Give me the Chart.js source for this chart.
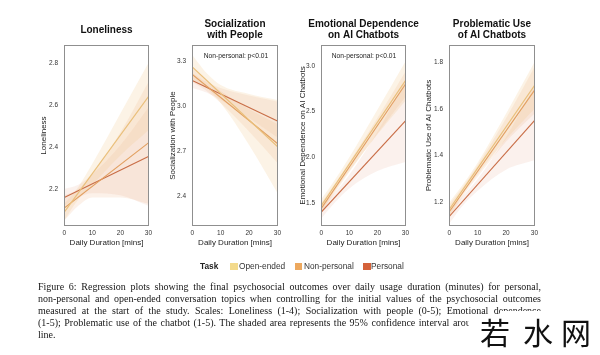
<!DOCTYPE html>
<html>
<head>
<meta charset="utf-8">
<script src="https://cdn.jsdelivr.net/npm/chart.js@4.4.1/dist/chart.umd.min.js"></script>
<style>
html,body{margin:0;padding:0;background:#fff;width:600px;height:355px;overflow:hidden;position:relative;font-family:"Liberation Sans",Arial,Helvetica,sans-serif;}
canvas.panel{position:absolute;top:0;}
.note{position:absolute;top:51px;font-size:6.7px;line-height:9px;color:#222;white-space:nowrap;transform:translateX(-50%);}
.lg{position:absolute;font-size:8.3px;line-height:10px;top:261px;color:#333;white-space:nowrap;}
.sw{position:absolute;top:262.5px;width:7.5px;height:7.5px;}
#caption{position:absolute;left:38px;top:281px;width:503px;font-family:"Liberation Serif","Times New Roman",serif;font-size:10px;line-height:12px;color:#161616;}
#caption .j{text-align:justify;text-align-last:justify;}
.wm{position:absolute;background:#fff;}
.wc{position:absolute;top:316px;font-family:"Noto Sans CJK SC",sans-serif;font-size:30px;line-height:30px;color:#111;}
</style>
</head>
<body>
<canvas class="panel" id="c1"></canvas>
<canvas class="panel" id="c2"></canvas>
<canvas class="panel" id="c3"></canvas>
<canvas class="panel" id="c4"></canvas>
<div class="note" style="left:236px;">Non-personal: p&lt;0.01</div>
<div class="note" style="left:364px;">Non-personal: p&lt;0.01</div>

<div class="lg" style="left:200px;font-weight:bold;color:#222;">Task</div>
<div class="sw" style="left:230px;background:#f3da8c;"></div>
<div class="lg" style="left:239px;">Open-ended</div>
<div class="sw" style="left:294.5px;background:#eda85e;"></div>
<div class="lg" style="left:304px;">Non-personal</div>
<div class="sw" style="left:363px;background:#d4623a;"></div>
<div class="lg" style="left:371px;">Personal</div>

<div id="caption">
<div class="j">Figure 6: Regression plots showing the final psychosocial outcomes over daily usage duration (minutes) for personal,</div>
<div class="j">non-personal and open-ended conversation topics when controlling for the initial values of the psychosocial outcomes</div>
<div class="j">measured at the start of the study. Scales: Loneliness (1-4); Socialization with people (0-5); Emotional dependence</div>
<div class="j">(1-5); Problematic use of the chatbot (1-5). The shaded area represents the 95% confidence interval around the regression</div>
<div>line.</div>
</div>
<div class="wm" style="left:500px;top:311px;width:100px;height:44px;"></div>
<div class="wm" style="left:469px;top:316px;width:131px;height:39px;"></div>
<div class="wc" style="left:480px;">若</div>
<div class="wc" style="left:523px;">水</div>
<div class="wc" style="left:561px;">网</div>

<script>
// ---------- data ----------
const categories = ['Open-ended', 'Non-personal', 'Personal'];
const xTicks = [0, 10, 20, 30];
const lineX = [0, 30];
const bandX = [0, 5, 10, 20, 30];

const lonelinessTicks = [2.2, 2.4, 2.6, 2.8];
const lonelinessLines = [[2.09, 2.64], [2.11, 2.42], [2.16, 2.355]];
const lonelinessLower = [[2.05, 2.15, 2.22, 2.36, 2.48], [2.05, 2.12, 2.16, 2.16, 2.13], [2.12, 2.16, 2.18, 2.17, 2.12]];
const lonelinessUpper = [[2.13, 2.21, 2.32, 2.56, 2.80], [2.17, 2.20, 2.27, 2.47, 2.71], [2.20, 2.22, 2.27, 2.41, 2.59]];

const socialTicks = [2.4, 2.7, 3.0, 3.3];
const socialLines = [[3.26, 2.73], [3.21, 2.75], [3.17, 2.90]];
const socialLower = [[3.18, 3.12, 3.02, 2.74, 2.42], [3.16, 3.10, 3.02, 2.83, 2.62], [3.12, 3.09, 3.04, 2.92, 2.79]];
const socialUpper = [[3.34, 3.22, 3.14, 3.08, 3.04], [3.26, 3.17, 3.10, 2.98, 2.88], [3.22, 3.16, 3.12, 3.07, 3.03]];

const emotionalTicks = [1.5, 2.0, 2.5, 3.0];
const emotionalLines = [[1.47, 2.84], [1.44, 2.80], [1.40, 2.40]];
const emotionalLower = [[1.40, 1.64, 1.85, 2.25, 2.62], [1.38, 1.62, 1.84, 2.26, 2.66], [1.33, 1.51, 1.66, 1.85, 1.95]];
const emotionalUpper = [[1.54, 1.76, 2.00, 2.52, 3.05], [1.50, 1.72, 1.95, 2.43, 2.94], [1.47, 1.62, 1.81, 2.28, 2.85]];

const problematicTicks = [1.2, 1.4, 1.6, 1.8];
const problematicLines = [[1.17, 1.70], [1.16, 1.68], [1.14, 1.55]];
const problematicLower = [[1.14, 1.24, 1.32, 1.47, 1.60], [1.13, 1.23, 1.31, 1.46, 1.58], [1.11, 1.19, 1.25, 1.34, 1.38]];
const problematicUpper = [[1.20, 1.28, 1.37, 1.58, 1.80], [1.19, 1.27, 1.36, 1.56, 1.78], [1.17, 1.23, 1.30, 1.48, 1.70]];

// ---------- styles ----------
const family = '"Liberation Sans", Arial, Helvetica, sans-serif';
const lineColors = ['#eac07c', '#e2a062', '#c96e47'];
const bandColors = ['rgba(240,192,122,0.19)', 'rgba(232,156,98,0.14)', 'rgba(214,122,78,0.10)'];

const panels = [
  {id: 'c1', left: 64, w: 85, title: 'Loneliness', yTitle: 'Loneliness', min: 2.024, max: 2.886,
   ticks: lonelinessTicks, lines: lonelinessLines, lower: lonelinessLower, upper: lonelinessUpper, tOff: 20.7},
  {id: 'c2', left: 192, w: 86, title: ['Socialization', 'with People'], yTitle: 'Socialization with People', min: 2.2, max: 3.407,
   ticks: socialTicks, lines: socialLines, lower: socialLower, upper: socialUpper, tOff: 19.3},
  {id: 'c3', left: 321, w: 85, title: ['Emotional Dependence', 'on AI Chatbots'], yTitle: 'Emotional Dependence on AI Chatbots', min: 1.248, max: 3.23,
   ticks: emotionalTicks, lines: emotionalLines, lower: emotionalLower, upper: emotionalUpper, tOff: 18.3},
  {id: 'c4', left: 449, w: 86, title: ['Problematic Use', 'of AI Chatbots'], yTitle: 'Problematic Use of AI Chatbots', min: 1.099, max: 1.874,
   ticks: problematicTicks, lines: problematicLines, lower: problematicLower, upper: problematicUpper, tOff: 20.7}
];

const boxPlugin = {
  id: 'plotBox',
  afterDatasetsDraw(chart) {
    const {ctx, chartArea: a} = chart;
    ctx.save();
    ctx.strokeStyle = '#8f8f8f';
    ctx.lineWidth = 1;
    ctx.strokeRect(Math.round(a.left) + 0.5, Math.round(a.top) + 0.5, Math.round(a.width) - 1, Math.round(a.height) - 1);
    ctx.restore();
  }
};

const AXW = 48;
panels.forEach(p => {
  const cv = document.getElementById(p.id);
  cv.width = p.w + 2 * AXW;
  cv.height = 252;
  cv.style.left = (p.left - AXW) + 'px';
  cv.style.width = cv.width + 'px';
  cv.style.height = cv.height + 'px';

  const datasets = [];
  categories.forEach((c, i) => {
    datasets.push({
      label: c,
      data: lineX.map((x, k) => ({x, y: p.lines[i][k]})),
      borderColor: lineColors[i], borderWidth: 1.15, pointRadius: 0, fill: false
    });
  });
  categories.forEach((c, i) => {
    datasets.push({
      label: c + ' CI low',
      data: bandX.map((x, k) => ({x, y: p.lower[i][k]})),
      borderWidth: 0, borderColor: 'rgba(0,0,0,0)', pointRadius: 0, fill: false,
      cubicInterpolationMode: 'monotone'
    });
    datasets.push({
      label: c + ' CI high',
      data: bandX.map((x, k) => ({x, y: p.upper[i][k]})),
      borderWidth: 0, borderColor: 'rgba(0,0,0,0)', pointRadius: 0, fill: '-1',
      backgroundColor: bandColors[i], cubicInterpolationMode: 'monotone'
    });
  });

  const twoLine = Array.isArray(p.title);
  new Chart(cv, {
    type: 'line',
    data: {datasets},
    plugins: [boxPlugin],
    options: {
      responsive: false,
      animation: false,
      devicePixelRatio: 1,
      layout: {padding: 0},
      plugins: {
        legend: {display: false},
        tooltip: {enabled: false},
        title: {
          display: true, text: p.title, color: '#111',
          font: {family, size: 10, weight: 'bold', lineHeight: 1.05},
          padding: twoLine ? {top: 19.25, bottom: 4.75} : {top: 24.5, bottom: 10}
        }
      },
      scales: {
        x: {
          type: 'linear', min: -0.1, max: 30.2,
          afterBuildTicks: s => { s.ticks = xTicks.map(v => ({value: v})); },
          ticks: {font: {family, size: 6.5}, color: '#333', padding: 3.5, maxRotation: 0, autoSkip: false},
          grid: {display: false, drawTicks: false},
          border: {display: false},
          title: {display: true, text: 'Daily Duration [mins]', color: '#222', font: {family, size: 8}, padding: {top: 0, bottom: 4.9}},
          afterFit: s => { s.height = 26; s.paddingLeft = 0; s.paddingRight = 0; }
        },
        y: {
          type: 'linear', position: 'left', min: p.min, max: p.max,
          afterBuildTicks: s => { s.ticks = p.ticks.map(v => ({value: v})); },
          ticks: {font: {family, size: 6.5}, color: '#333', padding: 6, callback: v => Number(v).toFixed(1)},
          grid: {display: false, drawTicks: false},
          border: {display: false},
          title: {display: true, text: p.yTitle, color: '#222', font: {family, size: 8}, padding: {top: AXW - p.tOff - 4.8, bottom: 0}},
          afterFit: s => { s.width = AXW; s.paddingTop = 0; s.paddingBottom = 0; }
        },
        yr: {
          type: 'linear', position: 'right', display: true, min: 0, max: 1,
          ticks: {display: false}, grid: {display: false, drawTicks: false}, border: {display: false},
          afterFit: s => { s.width = AXW; s.paddingTop = 0; s.paddingBottom = 0; }
        }
      }
    }
  });
});
</script>
</body>
</html>
